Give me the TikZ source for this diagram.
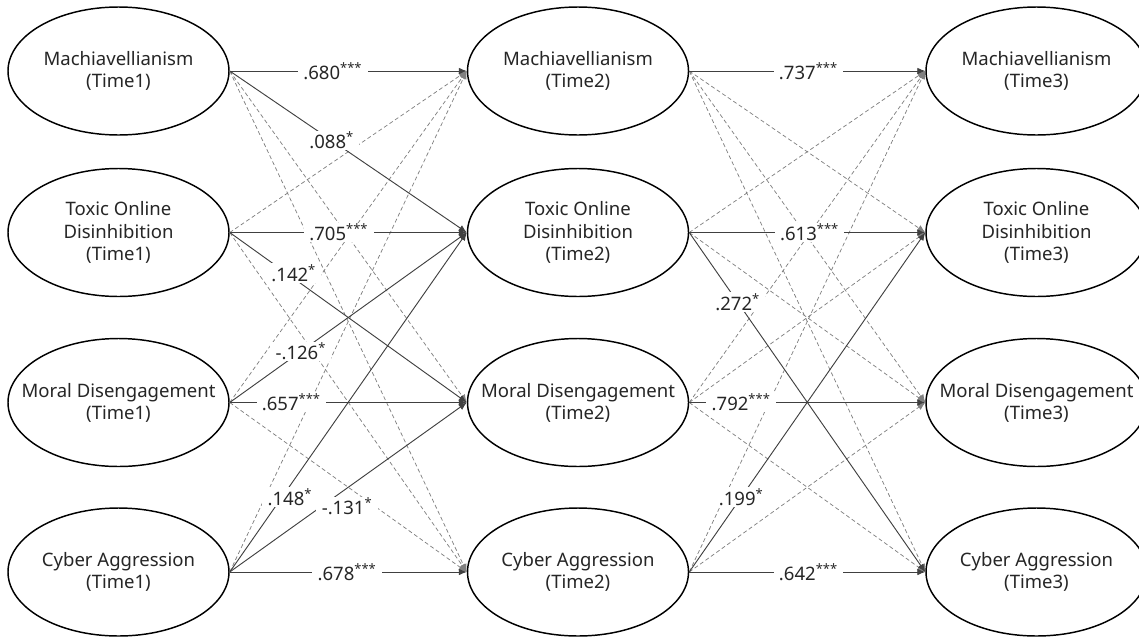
\documentclass[tikz,border=0pt]{standalone}
\usepackage{fontspec}
\setmainfont{Noto Sans}
\usepackage{tikz}
\usetikzlibrary{arrows.meta, shapes.geometric}

\begin{document}
\begin{tikzpicture}[x=0.75pt, y=-0.75pt,
  font=\fontsize{13.9}{16.6}\selectfont,
  var/.style={ellipse, draw=black, line width=1.1pt, fill=white,
              minimum width=165.75pt, minimum height=96pt, inner sep=0pt},
  vtxt/.style={align=center, text=black!85},
  coef/.style={fill=white, inner xsep=4pt, inner ysep=1pt, text=black!85},
  sig/.style={-{Latex[length=6pt,width=5pt]}, draw=black!75, line width=0.7pt},
  nsig/.style={-{Latex[length=6pt,width=5pt]}, draw=black!50, line width=0.55pt,
               dash pattern=on 3pt off 2pt}]

  \useasboundingbox (0,0) rectangle (1139,636);

  \node[var, label={[vtxt]center:{Machiavellianism\\(Time1)}}] (mach1) at (118.5,71) {};
  \node[var, label={[vtxt]center:{Toxic Online\\Disinhibition\\(Time1)}}] (tox1) at (118.5,232.5) {};
  \node[var, label={[vtxt]center:{Moral Disengagement\\(Time1)}}] (moral1) at (118.5,402.5) {};
  \node[var, label={[vtxt]center:{Cyber Aggression\\(Time1)}}] (cyber1) at (118.5,572) {};

  \node[var, label={[vtxt]center:{Machiavellianism\\(Time2)}}] (mach2) at (578,71) {};
  \node[var, label={[vtxt]center:{Toxic Online\\Disinhibition\\(Time2)}}] (tox2) at (578,232.5) {};
  \node[var, label={[vtxt]center:{Moral Disengagement\\(Time2)}}] (moral2) at (578,402.5) {};
  \node[var, label={[vtxt]center:{Cyber Aggression\\(Time2)}}] (cyber2) at (578,572) {};

  \node[var, label={[vtxt]center:{Machiavellianism\\(Time3)}}] (mach3) at (1036.5,71) {};
  \node[var, label={[vtxt]center:{Toxic Online\\Disinhibition\\(Time3)}}] (tox3) at (1036.5,232.5) {};
  \node[var, label={[vtxt]center:{Moral Disengagement\\(Time3)}}] (moral3) at (1036.5,402.5) {};
  \node[var, label={[vtxt]center:{Cyber Aggression\\(Time3)}}] (cyber3) at (1036.5,572) {};

  % non-significant paths
  \draw[nsig] (mach1.east) -- (moral2.west);
  \draw[nsig] (mach1.east) -- (cyber2.west);
  \draw[nsig] (tox1.east) -- (mach2.west);
  \draw[nsig] (tox1.east) -- (cyber2.west);
  \draw[nsig] (moral1.east) -- (mach2.west);
  \draw[nsig] (moral1.east) -- (cyber2.west);
  \draw[nsig] (cyber1.east) -- (mach2.west);

  \draw[nsig] (mach2.east) -- (tox3.west);
  \draw[nsig] (mach2.east) -- (moral3.west);
  \draw[nsig] (mach2.east) -- (cyber3.west);
  \draw[nsig] (tox2.east) -- (mach3.west);
  \draw[nsig] (tox2.east) -- (moral3.west);
  \draw[nsig] (moral2.east) -- (mach3.west);
  \draw[nsig] (moral2.east) -- (tox3.west);
  \draw[nsig] (moral2.east) -- (cyber3.west);
  \draw[nsig] (cyber2.east) -- (mach3.west);
  \draw[nsig] (cyber2.east) -- (moral3.west);

  % significant paths
  \draw[sig] (mach1.east) -- (mach2.west) node[coef, pos=0.435] {.680\textsuperscript{***}};
  \draw[sig] (mach1.east) -- (tox2.west) node[coef, pos=0.43] {.088\textsuperscript{*}};
  \draw[sig] (tox1.east) -- (tox2.west) node[coef, pos=0.46] {.705\textsuperscript{***}};
  \draw[sig] (tox1.east) -- (moral2.west) node[coef, pos=0.27, yshift=4pt] {.142\textsuperscript{*}};
  \draw[sig] (moral1.east) -- (tox2.west) node[coef, pos=0.30] {-.126\textsuperscript{*}};
  \draw[sig] (moral1.east) -- (moral2.west) node[coef, pos=0.26] {.657\textsuperscript{***}};
  \draw[sig] (cyber1.east) -- (tox2.west) node[coef, pos=0.22, xshift=6pt] {.148\textsuperscript{*}};
  \draw[sig] (cyber1.east) -- (moral2.west) node[coef, pos=0.45, xshift=8pt, yshift=-8pt] {-.131\textsuperscript{*}};
  \draw[sig] (cyber1.east) -- (cyber2.west) node[coef, pos=0.495] {.678\textsuperscript{***}};

  \draw[sig] (mach2.east) -- (mach3.west) node[coef, pos=0.505] {.737\textsuperscript{***}};
  \draw[sig] (tox2.east) -- (tox3.west) node[coef, pos=0.51] {.613\textsuperscript{***}};
  \draw[sig] (tox2.east) -- (cyber3.west) node[coef, pos=0.205] {.272\textsuperscript{*}};
  \draw[sig] (moral2.east) -- (moral3.west) node[coef, pos=0.22] {.792\textsuperscript{***}};
  \draw[sig] (cyber2.east) -- (tox3.west) node[coef, pos=0.22] {.199\textsuperscript{*}};
  \draw[sig] (cyber2.east) -- (cyber3.west) node[coef, pos=0.505] {.642\textsuperscript{***}};
\end{tikzpicture}
\end{document}
